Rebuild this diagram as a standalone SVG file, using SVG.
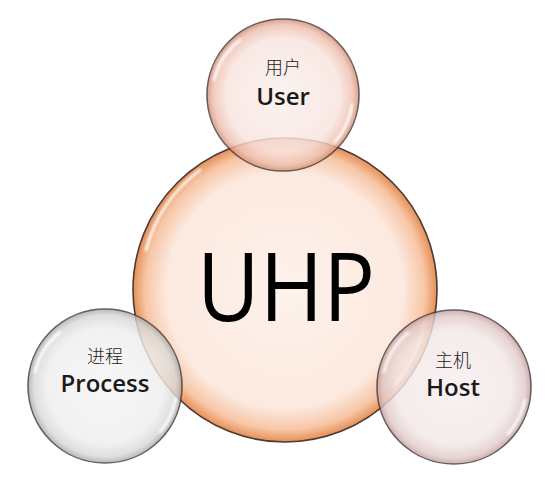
<svg xmlns="http://www.w3.org/2000/svg" width="545" height="482" viewBox="0 0 545 482">
<defs>
<radialGradient id="gMain" cx="0.5" cy="0.5" r="0.5">
<stop offset="0" stop-color="#fdf2ec"/>
<stop offset="0.78" stop-color="#fce9df"/>
<stop offset="0.92" stop-color="#f7c6a6"/>
<stop offset="1" stop-color="#e58f55"/>
</radialGradient>
<radialGradient id="gUser" cx="0.5" cy="0.5" r="0.5">
<stop offset="0" stop-color="#fbf0ed"/>
<stop offset="0.75" stop-color="#f8e4de"/>
<stop offset="0.92" stop-color="#eebfae"/>
<stop offset="1" stop-color="#d38f77"/>
</radialGradient>
<radialGradient id="gProc" cx="0.5" cy="0.5" r="0.5">
<stop offset="0" stop-color="#f6f6f6"/>
<stop offset="0.75" stop-color="#efefef"/>
<stop offset="0.92" stop-color="#d8d8d8"/>
<stop offset="1" stop-color="#a9a9a9"/>
</radialGradient>
<radialGradient id="gHost" cx="0.5" cy="0.5" r="0.5">
<stop offset="0" stop-color="#f8f0f0"/>
<stop offset="0.75" stop-color="#f3e7e7"/>
<stop offset="0.92" stop-color="#e2caca"/>
<stop offset="1" stop-color="#c0a0a0"/>
</radialGradient>
<filter id="blur" x="-20%" y="-20%" width="140%" height="140%"><feGaussianBlur stdDeviation="1.2"/></filter>
</defs>
<style>
.ring{stroke:#4a3a34;stroke-width:1.6}
.hl{fill:none;stroke:#ffffff;stroke-width:3;stroke-linecap:round;opacity:0.85;filter:url(#blur)}
.cjk{font-family:"Noto Sans CJK SC",sans-serif;font-weight:300;font-size:18px;fill:#222;text-anchor:middle}
.en{font-family:"Open Sans","Noto Sans",sans-serif;font-weight:600;font-size:24px;fill:#1a1a1a;text-anchor:middle}
.big{font-family:"Open Sans","Noto Sans",sans-serif;font-weight:400;font-size:96px;fill:#000;text-anchor:middle}
</style>
<rect width="545" height="482" fill="#ffffff"/>
<g id="connectors"></g>
<g id="uhp">
<circle cx="285" cy="290" r="152" fill="url(#gMain)" class="ring"/>
<path class="hl" d="M146 250 A145 145 0 0 1 200 170"/>
<path class="hl" d="M425 320 A145 145 0 0 1 395 385"/>
<text class="big" x="286" y="321" textLength="178" lengthAdjust="spacingAndGlyphs">UHP</text>
</g>
<g id="user" opacity="0.82">
<circle cx="283" cy="95" r="76" fill="url(#gUser)" class="ring"/>
<path class="hl" d="M214 80 A70 70 0 0 1 240 40"/>
<path class="hl" d="M352 105 A70 70 0 0 1 335 142"/>
</g>
<g id="process" opacity="0.82">
<circle cx="105" cy="386" r="77" fill="url(#gProc)" class="ring"/>
<path class="hl" d="M35 372 A71 71 0 0 1 60 332"/>
<path class="hl" d="M176 398 A71 71 0 0 1 160 432"/>
</g>
<g id="host" opacity="0.82">
<circle cx="454" cy="387" r="77" fill="url(#gHost)" class="ring"/>
<path class="hl" d="M384 372 A71 71 0 0 1 408 333"/>
<path class="hl" d="M525 400 A71 71 0 0 1 508 434"/>
</g>
<g id="labels">
<text class="cjk" x="283" y="74">用户</text>
<text class="en" x="283" y="105">User</text>
<text class="cjk" x="105" y="363">进程</text>
<text class="en" x="105" y="392">Process</text>
<text class="cjk" x="453" y="367">主机</text>
<text class="en" x="453" y="396">Host</text>
</g>
</svg>
